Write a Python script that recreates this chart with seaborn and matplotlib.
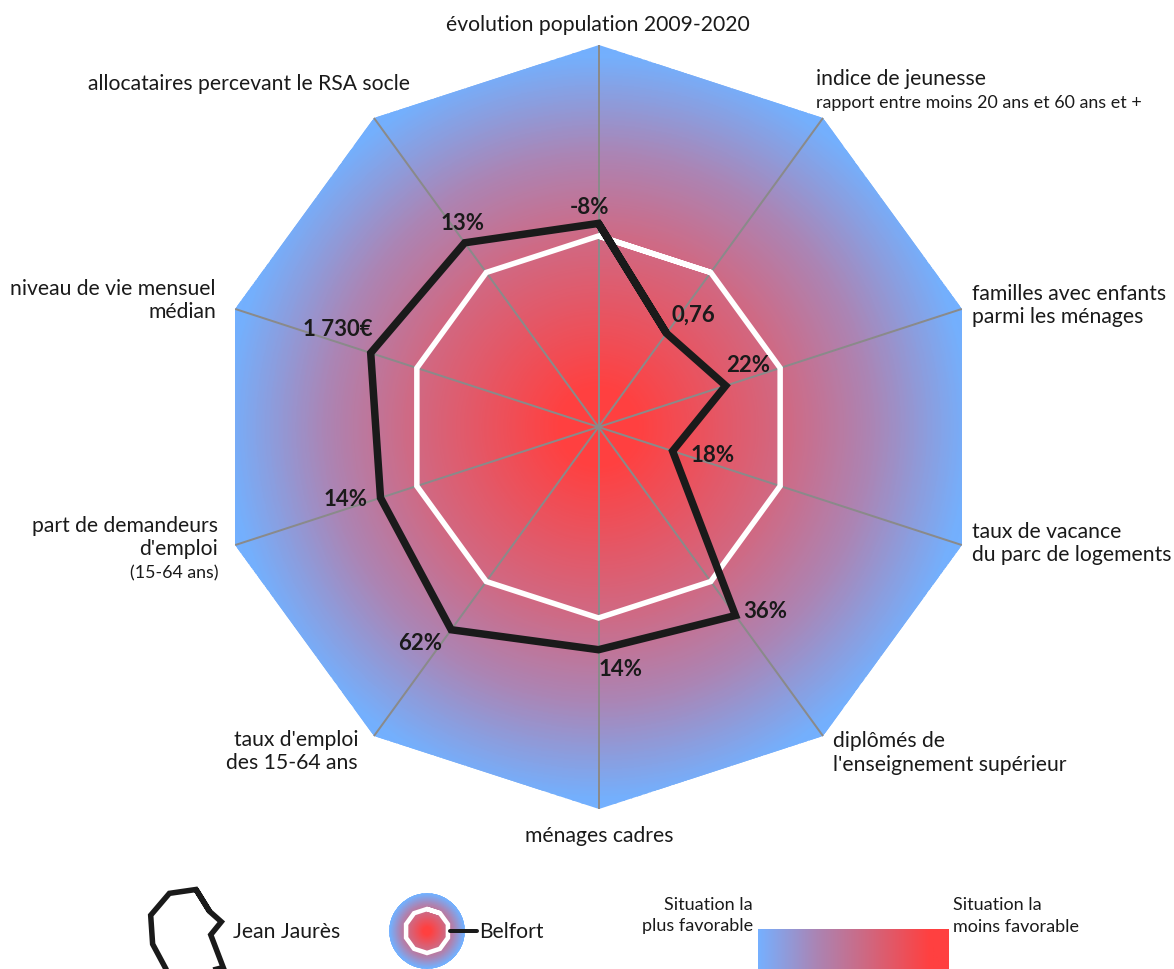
import numpy as np
import pandas as pd
import matplotlib
matplotlib.use("Agg")
import matplotlib.pyplot as plt
from matplotlib.colors import LinearSegmentedColormap
from matplotlib.lines import Line2D
from matplotlib.path import Path
import seaborn as sns

# ---------- data ----------
axis_names = ["évolution population 2009-2020", "indice de jeunesse", "familles avec enfants parmi les ménages",
              "taux de vacance du parc de logements", "diplômés de l'enseignement supérieur", "ménages cadres",
              "taux d'emploi des 15-64 ans", "part de demandeurs d'emploi", "niveau de vie mensuel médian",
              "allocataires percevant le RSA socle"]
jean_jaures = [0.533, 0.303, 0.35, 0.204, 0.61, 0.583, 0.656, 0.60, 0.627, 0.596]
belfort = [0.5] * 10
value_labels = ["-8%", "0,76", "22%", "18%", "36%", "14%", "62%", "14%", "1 730€", "13%"]

W, H = 1174, 969
sns.set_theme(style="white")
plt.rcParams["font.family"] = ["Lato", "DejaVu Sans"]
INK = "#1a1a1a"
cmap = LinearSegmentedColormap.from_list(
    "fav", [(0, "#FF4040"), (0.10, "#FF4040"), (0.5, "#CE6A85"), (0.72, "#AA85B5"), (0.97, "#74AFFC"), (1, "#72B0FF")])
bar_cmap = LinearSegmentedColormap.from_list(
    "bar", [(0, "#76B0FF"), (0.3, "#AA85B5"), (0.55, "#CC6A85"), (0.9, "#FF4040"), (1, "#FF4040")])

fig = plt.figure(figsize=(W / 100, H / 100), dpi=100, facecolor="white")
px = lambda v: v * 0.72


def polar_axes(cx, cy, rad, rmax, z=1):
    ax = fig.add_axes([(cx - rad) / W, (H - cy - rad) / H, 2 * rad / W, 2 * rad / H],
                      projection="polar", zorder=z)
    ax.set_theta_zero_location("N")
    ax.set_theta_direction(-1)
    ax.set_axis_off()
    ax.patch.set_alpha(0)
    ax.set_ylim(0, rmax)
    return ax


def spoke_angles(n):
    return np.arange(n) * 2 * np.pi / n


def radar(ax, values, color, lw, z):
    th = spoke_angles(len(values))
    df = pd.DataFrame({"t": np.r_[th, th[:2] + 2 * np.pi], "v": list(values) + list(values[:2])})
    sns.lineplot(data=df, x="t", y="v", sort=False, estimator=None, color=color, ax=ax, legend=False,
                 lw=lw, zorder=z, solid_joinstyle="miter", solid_capstyle="butt", clip_on=False)


def gradient(ax, rmax, clip=None):
    t = np.linspace(0, 2 * np.pi, 361)
    r = np.linspace(0, rmax, 301)
    T, R = np.meshgrid(t, r)
    m = ax.pcolormesh(T, R, R[:-1, :-1] / rmax, cmap=cmap, vmin=0, vmax=1, shading="flat",
                      antialiased=False, linewidth=0, rasterized=True, zorder=1)
    if clip is not None:
        m.set_clip_path(clip, ax.transData)


# ---------- main radar ----------
ax = polar_axes(598.5, 427, 382, 1.0)
th = spoke_angles(len(axis_names))
outline = Path(np.c_[np.r_[th, th[0]], np.ones(len(th) + 1)], closed=True)
gradient(ax, 1.0, outline)
for t in th:
    ax.plot([t, t], [0, 1], color="#8a8a8a", lw=px(2), zorder=2, clip_on=False, solid_capstyle="butt")
radar(ax, belfort, "white", px(5.5), 3)
radar(ax, jean_jaures, INK, px(7.5), 4)
ax.set_ylim(0, 1.0)
ax.set_xlabel("")
ax.set_ylabel("")

# ---------- text ----------
def put(x, y, s, ha="left", size=15.25, weight="normal", pitch=23):
    lines = s.split("\n")
    for i, line in enumerate(lines):
        fig.text(x / W, 1 - (y + 1 + i * pitch) / H, line, ha=ha, va="center", fontsize=size,
                 fontweight=weight, color=INK, zorder=10)


put(598, 24, "évolution population 2009-2020", "center")
put(410, 83, "allocataires percevant le RSA socle", "right")
put(816, 78, "indice de jeunesse")
put(816, 102, "rapport entre moins 20 ans et 60 ans et +", size=12.9)
put(972, 293, "familles avec enfants\nparmi les ménages")
put(972, 531, "taux de vacance\ndu parc de logements")
put(833, 740, "diplômés de\nl'enseignement supérieur", pitch=24)
put(599, 835, "ménages cadres", "center")
put(358, 739, "taux d'emploi\ndes 15-64 ans", "right")
put(218, 525, "part de demandeurs\nd'emploi", "right")
put(218, 572, "(15-64 ans)", "right", size=12.8)
put(216, 288, "niveau de vie mensuel\nmédian", "right")

label_pos = [(590, 207), (693, 314), (748, 365), (713, 455), (765, 610),
             (621, 669), (420, 642), (346, 498), (338, 329), (463, 222)]
for (x, y), s in zip(label_pos, value_labels):
    put(x, y, s, "center", size=16, weight="bold")

# ---------- legend ----------
mini = polar_axes(196, 930, 76, 1.0, z=2)
radar(mini, jean_jaures, INK, px(5.5), 4)
mini.set_ylim(0, 1.0)
mini.set_xlabel(""); mini.set_ylabel("")
put(233, 931, "Jean Jaurès")

lg = polar_axes(427, 931, 38, 0.5 * 38 / 22, z=2)
gradient(lg, 0.5 * 38 / 22)
radar(lg, belfort, "white", px(4.5), 3)
lg.set_ylim(0, 0.5 * 38 / 22)
lg.set_xlabel(""); lg.set_ylabel("")
fig.add_artist(Line2D([450 / W, 477 / W], [1 - 931 / H] * 2, color=INK, lw=px(4), zorder=5))
put(479, 931, "Belfort")

put(753, 904, "Situation la\nplus favorable", "right", size=13, pitch=21.5)
put(953, 904, "Situation la\nmoins favorable", size=13, pitch=21.5)

bar = fig.add_axes([758 / W, 0, 191 / W, 40 / H])
bar.imshow(np.linspace(0, 1, 256)[None, :], aspect="auto", cmap=bar_cmap, vmin=0, vmax=1)
bar.set_axis_off()

fig.savefig("out.png", dpi=100, facecolor="white")
